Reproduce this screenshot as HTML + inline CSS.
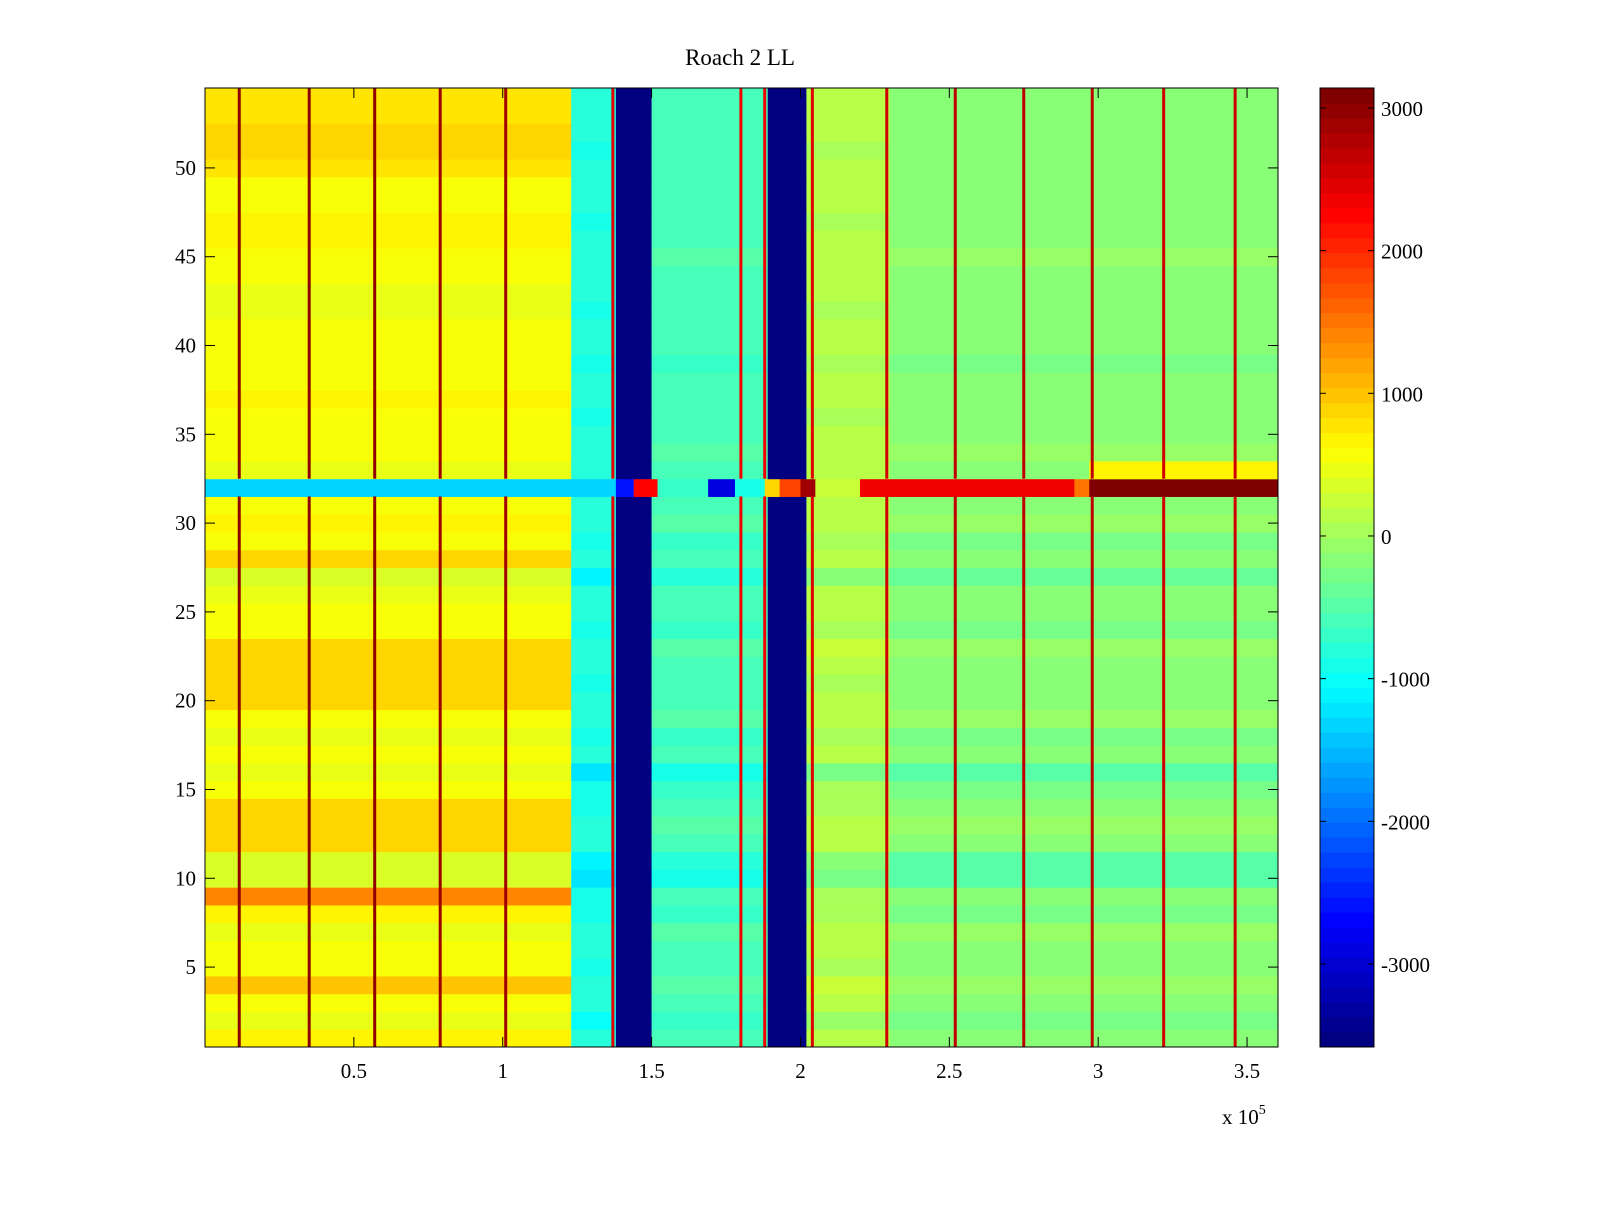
<!DOCTYPE html>
<html><head><meta charset="utf-8"><style>
body{margin:0;background:#fff;width:1600px;height:1200px;overflow:hidden}
svg text{font-family:"Liberation Serif",serif;fill:#000}
</style></head><body>
<svg id="chart" width="1600" height="1200" xmlns="http://www.w3.org/2000/svg">
<rect width="1600" height="1200" fill="#fff"/>
<text x="740" y="65" font-size="23" text-anchor="middle">Roach 2 LL</text>
<g id="cells"></g>
<g id="axes"></g>
<g id="cbar"></g>
</svg>
<script>
// column bands: [start, end] in units of 1e5, base value
const bandStarts = [0, 1.23, 1.38, 1.50, 1.89, 2.02, 2.30];
const bandEnds   = [1.23, 1.38, 1.50, 1.89, 2.02, 2.30, 3.604];
const bandValues = [550, -850, -3550, -550, -3550, 100, -150];
const bandIsBlue = [false, false, true, false, true, false, false];
// left-region row offsets for rows 1..54
const leftRowOffsets = [100,-100,50,400,0,50,-50,100,900,-200,-150,350,350,300,50,-100,50,-50,50,350,300,300,350,0,50,-50,-150,350,50,100,0,0,-50,50,50,0,100,50,0,0,50,-100,-100,0,50,100,150,0,50,250,300,300,250,200];
// right-region row offsets for rows 1..54
const rightRowOffsets = [0,-150,0,100,-50,0,50,-100,-50,-350,-300,0,50,-50,-100,-350,0,-100,50,0,-50,0,100,-100,0,0,-250,0,-100,50,0,0,0,50,0,-50,0,0,-100,0,0,-50,0,0,50,0,-50,0,0,0,-50,0,0,0];
// row 32 override segments
const row32Starts = [0, 1.38, 1.44, 1.52, 1.69, 1.78, 1.88, 1.93, 2.00, 2.05, 2.20, 2.92, 2.97];
const row32Ends   = [1.38, 1.44, 1.52, 1.69, 1.78, 1.88, 1.93, 2.00, 2.05, 2.20, 2.92, 2.97, 3.604];
const row32Values = [-1300, -2600, 2200, -700, -2900, -900, 900, 1800, 2900, 300, 2400, 1500, 3100];
// row 33 right side is yellow
const row33Start = 2.97, row33Value = 650;
// vertical stripe positions (1e5) and values
const lineX = [0.115, 0.35, 0.57, 0.79, 1.01, 1.37, 1.80, 1.88, 2.04, 2.29, 2.52, 2.75, 2.98, 3.22, 3.46];
const lineValues = [3000, 3000, 3000, 2900, 2900, 2500, 2400, 2400, 2500, 2600, 2700, 2700, 2700, 2600, 2600];
const xTicks = [0.5, 1, 1.5, 2, 2.5, 3, 3.5];
const xTickLabels = ["0.5","1","1.5","2","2.5","3","3.5"];
const yTicks = [5,10,15,20,25,30,35,40,45,50];
const cTicks = [3000,2000,1000,0,-1000,-2000,-3000];

const PL=205, PR=1278, PT=88, PB=1047;
const XMIN=0, XMAX=3.604, YMIN=0.5, YMAX=54.5;
const CMIN=-3582, CMAX=3140;
const sx = v => PL + (v-XMIN)/(XMAX-XMIN)*(PR-PL);
const sy = v => PB - (v-YMIN)/(YMAX-YMIN)*(PB-PT);
function jet(t){
  t=Math.max(0,Math.min(1,t)); t=Math.min(63,Math.floor(t*64))/63;
  const f=x=>Math.max(0,Math.min(1,x));
  const r=f(Math.min(4*t-1.5,-4*t+4.5)), g=f(Math.min(4*t-0.5,-4*t+3.5)), b=f(Math.min(4*t+0.5,-4*t+2.5));
  return `rgb(${Math.round(r*255)},${Math.round(g*255)},${Math.round(b*255)})`;
}
const col = v => jet((v-CMIN)/(CMAX-CMIN));
const NS="http://www.w3.org/2000/svg";
function mk(tag, attrs, parent){const e=document.createElementNS(NS,tag);for(const k in attrs)e.setAttribute(k,attrs[k]);parent.appendChild(e);return e;}
const cells=document.getElementById('cells');
for(let r=1;r<=54;r++){
  const y0=sy(r+0.5), y1=sy(r-0.5);
  if(r===32){
    row32Starts.forEach((s,i)=>{
      const e=mk('rect',{x:sx(s),y:y0,width:sx(row32Ends[i])-sx(s)+0.5,height:y1-y0+0.5,fill:col(row32Values[i])},cells);
      
      
    });
    continue;
  }
  bandStarts.forEach((s,i)=>{
    let v=bandValues[i];
    if(!bandIsBlue[i]) v+= (i===0 ? leftRowOffsets[r-1] : rightRowOffsets[r-1]);
    const e=mk('rect',{x:sx(s),y:y0,width:sx(bandEnds[i])-sx(s)+0.5,height:y1-y0+0.5,fill:col(v)},cells);
    
    
  });
  if(r===33){
    const e=mk('rect',{x:sx(row33Start),y:y0,width:sx(XMAX)-sx(row33Start),height:y1-y0+0.5,fill:col(row33Value)},cells);
    
    
  }
}
lineX.forEach((x,i)=>{
  [[0.5,31.5],[32.5,54.5]].forEach(([a,b])=>{
    const e=mk('rect',{x:sx(x)-1.5,y:sy(b),width:3,height:sy(a)-sy(b),fill:col(lineValues[i])},cells);
    
    
  });
});
const axes=document.getElementById('axes');
const fr=mk('rect',{x:PL,y:PT,width:PR-PL,height:PB-PT,fill:'none',stroke:'#000','stroke-width':1},axes);


xTicks.forEach((t,i)=>{
  const x=sx(t);
  mk('line',{x1:x,y1:PB,x2:x,y2:PB-10,stroke:'#000'},axes);
  mk('line',{x1:x,y1:PT,x2:x,y2:PT+10,stroke:'#000'},axes);
  const tx=mk('text',{x:x,y:1078,'font-size':21,'text-anchor':'middle'},axes);
  tx.textContent=xTickLabels[i];
  
  
});
yTicks.forEach(t=>{
  const y=sy(t);
  mk('line',{x1:PL,y1:y,x2:PL+10,y2:y,stroke:'#000'},axes);
  mk('line',{x1:PR,y1:y,x2:PR-10,y2:y,stroke:'#000'},axes);
  const tx=mk('text',{x:196,y:y+7,'font-size':21,'text-anchor':'end'},axes);
  tx.textContent=t;
  
  
});
const ex=mk('text',{x:1222,y:1124,'font-size':21},axes);
ex.innerHTML='x 10<tspan dy="-10" font-size="14">5</tspan>';


const cbar=document.getElementById('cbar');
const CL=1320, CR=1374;
const cy = v => PB - (v-CMIN)/(CMAX-CMIN)*(PB-PT);
for(let k=0;k<64;k++){
  const v0=CMIN+k*(CMAX-CMIN)/64, v1=CMIN+(k+1)*(CMAX-CMIN)/64;
  const e=mk('rect',{x:CL,y:cy(v1),width:CR-CL,height:cy(v0)-cy(v1)+0.5,fill:jet((k+0.5)/64)},cbar);
  
  
}
mk('rect',{x:CL,y:PT,width:CR-CL,height:PB-PT,fill:'none',stroke:'#000'},cbar);
cTicks.forEach(t=>{
  const y=cy(t);
  mk('line',{x1:CL,y1:y,x2:CL+6,y2:y,stroke:'#000'},cbar);
  mk('line',{x1:CR,y1:y,x2:CR-6,y2:y,stroke:'#000'},cbar);
  const tx=mk('text',{x:1381,y:y+8,'font-size':21},cbar);
  tx.textContent=t;
  
  
});
</script>
</body></html>
